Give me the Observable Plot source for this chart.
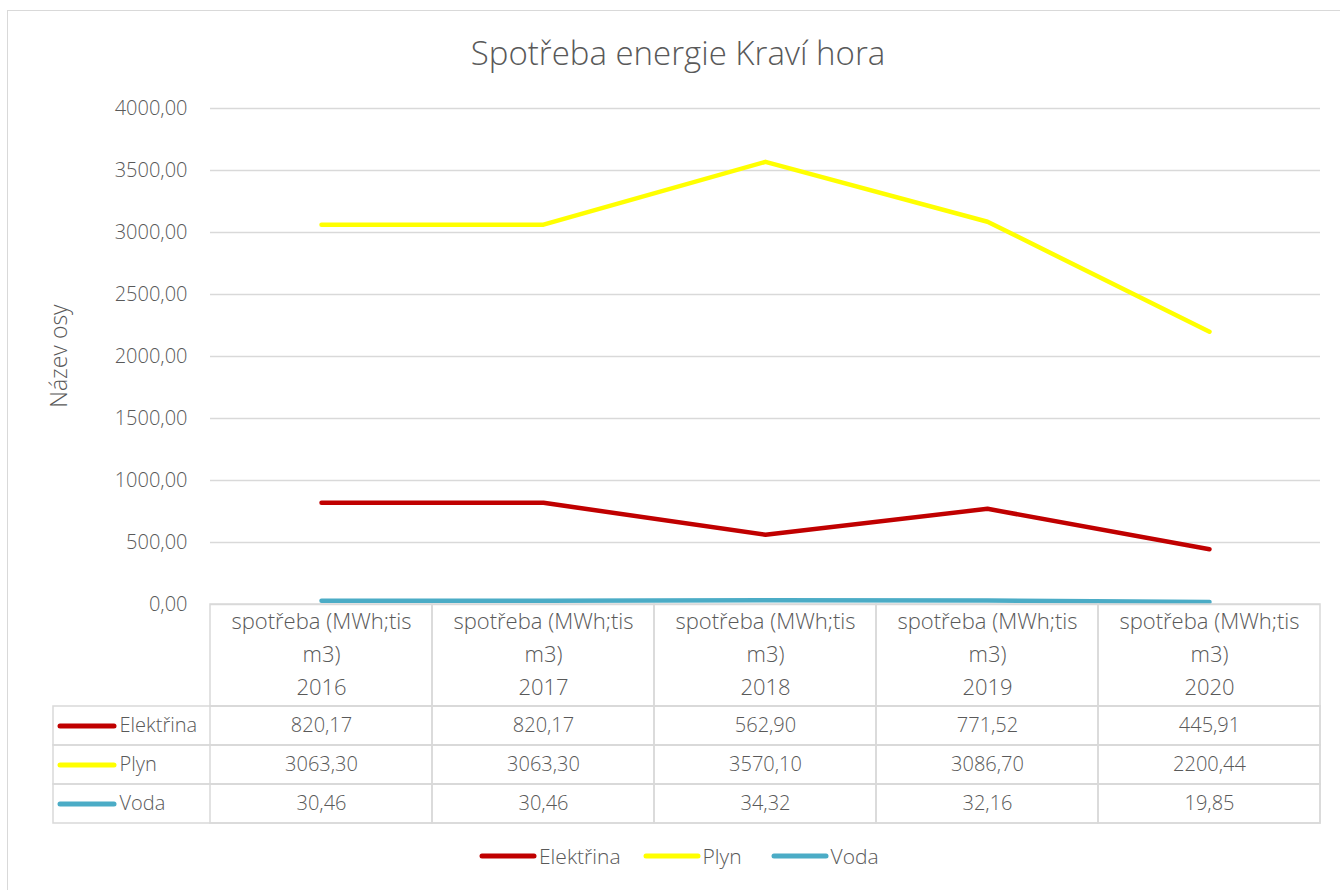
<!DOCTYPE html>
<html><head><meta charset="utf-8">
<script src="https://cdn.jsdelivr.net/npm/d3@7"></script>
<script src="https://cdn.jsdelivr.net/npm/@observablehq/plot@0.6"></script>
<style>
body{margin:0;background:#fff;overflow:hidden;font-family:"Open Sans",sans-serif;color:#595959;font-weight:300}
#root{position:relative;width:1340px;height:890px;overflow:hidden;background:#fff}
.abs{position:absolute}
#border{left:7px;top:10px;width:1400px;height:900px;border:1.5px solid #d9d9d9;box-sizing:border-box}
#title{left:8px;top:30px;width:1340px;text-align:center;font-size:33px;white-space:nowrap}
#ylabel{left:58px;top:356px;font-size:23px;transform:translate(-50%,-50%) rotate(-90deg);white-space:nowrap}
#legend{left:479px;top:842px;display:flex;align-items:center;font-size:21px;white-space:nowrap}
#legend .item{display:flex;align-items:center}
#legend svg{margin-right:2px}
</style></head><body><div id="root"></div>
<script>
// ---- data ----
const title = "Spotřeba energie Kraví hora";
const yLabel = "Název osy";
const years = ["2016", "2017", "2018", "2019", "2020"];
const headerLabel = "spotřeba (MWh;tis\nm3)";
const seriesNames = ["Elektřina", "Plyn", "Voda"];
const seriesColors = ["#C00000", "#FFFF00", "#4BACC6"];
const elektrina = [820.17, 820.17, 562.90, 771.52, 445.91];
const plyn = [3063.30, 3063.30, 3570.10, 3086.70, 2200.44];
const voda = [30.46, 30.46, 34.32, 32.16, 19.85];
const yTicks = [0, 500, 1000, 1500, 2000, 2500, 3000, 3500, 4000];

// ---- build ----
const seriesValues = [elektrina, plyn, voda];
const long = seriesNames.flatMap((s, i) => years.map((yr, j) => ({series: s, year: yr, value: seriesValues[i][j]})));
const locale = d3.formatLocale({decimal: ",", thousands: "", grouping: [3], currency: ["", ""]});
const fmt = locale.format(".2f");
const FONT = '"Open Sans", sans-serif';
const TEXT = "#595959";
const GRID = "#d9d9d9";
const baseStyle = {fontFamily: FONT, fontSize: "20px", fontWeight: 300, color: TEXT, background: "transparent", overflow: "visible"};
const colorScale = {domain: seriesNames, range: seriesColors};

const root = document.getElementById("root");
function add(el, id, left, top) {
  if (id) el.id = id;
  el.classList.add("abs");
  if (left !== undefined) { el.style.left = left + "px"; el.style.top = top + "px"; }
  root.appendChild(el);
  return el;
}

add(document.createElement("div"), "border");

const chart = Plot.plot({
  width: 1340, height: 616, marginTop: 108, marginBottom: 12, marginLeft: 210, marginRight: 20,
  style: baseStyle,
  x: {type: "point", domain: years, padding: 0.5, axis: null},
  y: {domain: [0, 4000], axis: null},
  color: colorScale,
  marks: [
    Plot.gridY(yTicks, {stroke: GRID, strokeOpacity: 1, strokeWidth: 1.5}),
    Plot.axisY(yTicks, {tickSize: 0, tickPadding: 23, tickFormat: fmt, label: null}),
    Plot.line(long, {x: "year", y: "value", stroke: "series", z: "series", strokeWidth: 4.5, strokeLinecap: "round", strokeLinejoin: "round"})
  ]
});
add(chart, null, 0, 0);

const header = Plot.plot({
  width: 1340, height: 102, marginTop: 0, marginBottom: 0, marginLeft: 210, marginRight: 20,
  style: {...baseStyle, fontSize: "22px"},
  x: {type: "band", domain: years, padding: 0, axis: null},
  marks: [
    Plot.cell(years, {x: d => d, fill: "none", stroke: GRID, strokeWidth: 1.5}),
    Plot.text(years, {x: d => d, text: d => headerLabel + "\n" + d, frameAnchor: "middle", dy: -4, lineHeight: 1.5, fill: TEXT})
  ]
});
add(header, null, 0, 604);

const rows = Plot.plot({
  width: 1340, height: 117, marginTop: 0, marginBottom: 0, marginLeft: 53, marginRight: 20,
  style: baseStyle,
  x: {type: "band", domain: years, padding: 0, range: [210, 1320], axis: null},
  y: {type: "band", domain: seriesNames, padding: 0, axis: null},
  color: colorScale,
  marks: [
    Plot.cell(seriesNames, {y: d => d, fill: "none", stroke: GRID, strokeWidth: 1.5}),
    Plot.cell(long, {x: "year", y: "series", fill: "none", stroke: GRID, strokeWidth: 1.5}),
    Plot.ruleY(seriesNames, {y: d => d, stroke: d => d, strokeWidth: 5, strokeLinecap: "round", insetLeft: 7, insetRight: 1206}),
    Plot.text(seriesNames, {y: d => d, text: d => d, frameAnchor: "left", dx: 66, fill: TEXT}),
    Plot.text(long, {x: "year", y: "series", text: d => fmt(d.value), fill: TEXT})
  ]
});
add(rows, null, 0, 706);

const t = add(document.createElement("div"), "title");
t.textContent = title;
const yl = add(document.createElement("div"), "ylabel");
yl.textContent = yLabel;

const lg = add(document.createElement("div"), "legend");
const legendGaps = [22, 29, 0];
seriesNames.forEach((s, i) => {
  const item = document.createElement("div");
  item.className = "item";
  item.style.marginRight = legendGaps[i] + "px";
  const ns = "http://www.w3.org/2000/svg";
  const svg = document.createElementNS(ns, "svg");
  svg.setAttribute("width", 58); svg.setAttribute("height", 10);
  const ln = document.createElementNS(ns, "line");
  ln.setAttribute("x1", 3); ln.setAttribute("x2", 55); ln.setAttribute("y1", 5); ln.setAttribute("y2", 5);
  ln.setAttribute("stroke", seriesColors[i]); ln.setAttribute("stroke-width", 5); ln.setAttribute("stroke-linecap", "round");
  svg.appendChild(ln);
  const sp = document.createElement("span");
  sp.textContent = s;
  item.appendChild(svg); item.appendChild(sp);
  lg.appendChild(item);
});
</script></body></html>
